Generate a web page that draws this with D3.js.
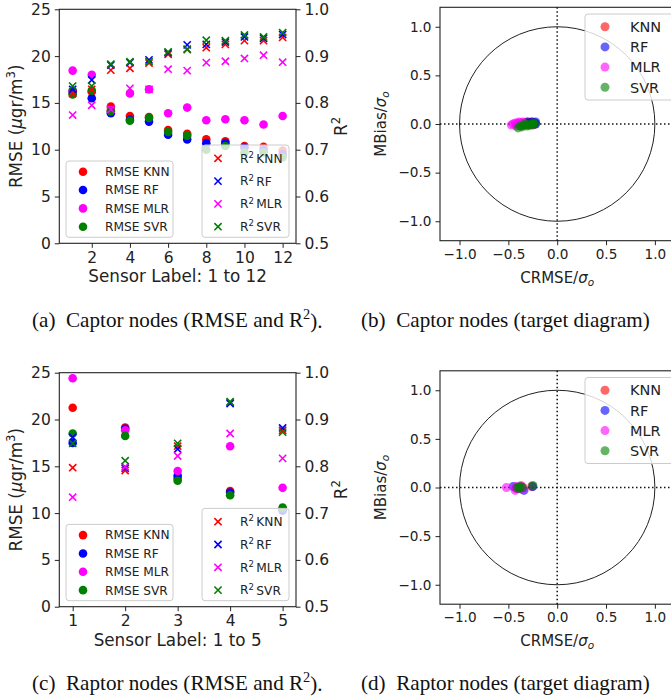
<!DOCTYPE html>
<html><head><meta charset="utf-8">
<script src="https://cdn.jsdelivr.net/npm/d3@7"></script>
<style>
body{margin:0;background:#fff;}
text{font-family:"DejaVu Sans",sans-serif;fill:#222;}
.cap{font-family:"Liberation Serif","DejaVu Serif",serif;fill:#111;}
</style></head>
<body><svg id="c" width="671" height="698"></svg>
<script>
// ---------------- DATA ----------------
const models = ["KNN","RF","MLR","SVR"];
const colors = ["#ff0000","#0000ff","#ff00ff","#008000"];

// Panel (a) Captor nodes, sensors 1..12
const sensorsA = [1,2,3,4,5,6,7,8,9,10,11,12];
const rmseA_KNN = [16.0,16.2,14.6,13.6,13.5,12.1,11.7,11.1,10.9,10.4,10.3,9.9];
const rmseA_RF  = [16.3,15.5,13.9,13.2,13.0,11.6,11.1,10.7,10.7,10.2,10.0,9.5];
const rmseA_MLR = [18.45,18.0,14.2,16.0,16.45,13.9,14.5,13.15,13.25,13.15,12.7,13.6];
const rmseA_SVR = [15.9,16.3,14.1,13.1,13.4,11.9,11.5,10.0,10.4,9.7,9.7,9.2];
const r2A_KNN = [0.820,0.829,0.870,0.874,0.885,0.904,0.914,0.918,0.925,0.933,0.933,0.940];
const r2A_RF  = [0.829,0.849,0.881,0.886,0.892,0.907,0.924,0.925,0.930,0.941,0.938,0.946];
const r2A_MLR = [0.774,0.795,0.786,0.831,0.829,0.872,0.869,0.886,0.889,0.895,0.902,0.887];
const r2A_SVR = [0.836,0.836,0.883,0.888,0.888,0.909,0.915,0.934,0.933,0.945,0.941,0.950];

// Panel (c) Raptor nodes, sensors 1..5
const sensorsC = [1,2,3,4,5];
const rmseC_KNN = [21.25,19.15,13.7,12.35,10.4];
const rmseC_RF  = [17.5,19.0,14.0,12.2,10.25];
const rmseC_MLR = [24.4,18.85,14.5,17.15,12.7];
const rmseC_SVR = [18.5,18.25,13.45,11.9,10.6];
const r2C_KNN = [0.797,0.791,0.843,0.936,0.877];
const r2C_RF  = [0.862,0.796,0.837,0.934,0.882];
const r2C_MLR = [0.734,0.799,0.822,0.870,0.817];
const r2C_SVR = [0.849,0.812,0.849,0.938,0.873];

// Panel (b) target diagram, captor nodes (CRMSE/sigma_o, MBias/sigma_o)
const tgtB_KNN_x = [-0.36,-0.34,-0.31,-0.29,-0.29,-0.27,-0.26,-0.25,-0.25,-0.24,-0.24,-0.23];
const tgtB_KNN_y = [0.01,0.00,0.02,-0.01,0.01,0.00,0.02,0.01,-0.01,0.00,0.01,0.00];
const tgtB_RF_x  = [-0.37,-0.35,-0.32,-0.30,-0.29,-0.27,-0.26,-0.25,-0.24,-0.23,-0.22,-0.22];
const tgtB_RF_y  = [0.00,-0.01,0.01,0.02,0.00,0.01,0.02,0.00,0.01,0.01,0.00,0.02];
const tgtB_MLR_x = [-0.47,-0.45,-0.43,-0.42,-0.41,-0.40,-0.39,-0.38,-0.37,-0.36,-0.35,-0.34];
const tgtB_MLR_y = [-0.01,0.00,0.01,-0.02,0.00,0.01,0.02,0.00,-0.01,0.01,0.02,0.00];
const tgtB_SVR_x = [-0.40,-0.38,-0.36,-0.34,-0.33,-0.31,-0.30,-0.28,-0.27,-0.25,-0.24,-0.23];
const tgtB_SVR_y = [-0.04,-0.02,-0.03,-0.01,0.00,-0.02,-0.01,0.00,-0.01,0.00,0.01,0.00];

// Panel (d) target diagram, raptor nodes
const tgtD_KNN_x = [-0.40,-0.37,-0.42,-0.35,-0.26];
const tgtD_KNN_y = [0.00,0.01,-0.01,0.00,0.01];
const tgtD_RF_x  = [-0.45,-0.38,-0.40,-0.34,-0.25];
const tgtD_RF_y  = [0.01,0.00,-0.01,-0.03,0.01];
const tgtD_MLR_x = [-0.52,-0.43,-0.42,-0.37,-0.36];
const tgtD_MLR_y = [0.00,-0.03,0.01,0.02,-0.02];
const tgtD_SVR_x = [-0.41,-0.38,-0.39,-0.36,-0.25];
const tgtD_SVR_y = [0.00,0.01,-0.01,0.00,0.02];

const ticksA_x = [2,4,6,8,10,12];
const ticksC_x = [1,2,3,4,5];
const ticksRMSE = [0,5,10,15,20,25];
const ticksR2 = [0.5,0.6,0.7,0.8,0.9,1.0];
const ticksTgt = [-1.0,-0.5,0.0,0.5,1.0];
const captions = ["(a)\u2002Captor nodes (RMSE and R","(b)\u2002Captor nodes (target diagram)",
                  "(c)\u2002Raptor nodes (RMSE and R","(d)\u2002Raptor nodes (target diagram)"];

// ---------------- DRAW ----------------
const svg = d3.select("#c");
svg.append("rect").attr("width",671).attr("height",698).attr("fill","#fff");
const fmtMinus = v => (v<0?"\u2212":"") + Math.abs(v).toFixed(1);
const TICKF = 15.5, LEGF = 12.2, LABF = 16.8;

function styleAxis(g, fs){
  g.selectAll("path.domain").remove();
  g.selectAll("line").attr("stroke","#222").attr("stroke-width",1);
  g.selectAll("text").attr("font-size",fs).attr("fill","#222").attr("font-family","DejaVu Sans");
}
function crossPath(s){ return `M${-s},${-s}L${s},${s}M${-s},${s}L${s},${-s}`; }

function legendBox(g, x, y, w, h){
  g.append("rect").attr("x",x).attr("y",y).attr("width",w).attr("height",h)
   .attr("rx",3).attr("fill","#fff").attr("fill-opacity",0.8).attr("stroke","#cccccc").attr("stroke-width",1);
}

function rmsePanel(top, sensors, domainX, ticksX, rmse, r2, xlabel){
  const L=59.3, R=296, B=top+234;
  const x = d3.scaleLinear().domain(domainX).range([L,R]);
  const y = d3.scaleLinear().domain([0,25]).range([B,top]);
  const y2 = d3.scaleLinear().domain([0.5,1.0]).range([B,top]);
  const g = svg.append("g");
  const gx = g.append("g").attr("transform",`translate(0,${B})`).call(d3.axisBottom(x).tickValues(ticksX).tickSize(4.5).tickPadding(4).tickFormat(d3.format("d")));
  styleAxis(gx,TICKF);
  const gy = g.append("g").attr("transform",`translate(${L},0)`).call(d3.axisLeft(y).tickValues(ticksRMSE).tickSize(4.5).tickPadding(4).tickFormat(d3.format("d")));
  styleAxis(gy,TICKF);
  const gy2 = g.append("g").attr("transform",`translate(${R},0)`).call(d3.axisRight(y2).tickValues(ticksR2).tickSize(4.5).tickPadding(4).tickFormat(d3.format(".1f")));
  styleAxis(gy2,TICKF);
  g.append("rect").attr("x",L).attr("y",top).attr("width",R-L).attr("height",B-top)
   .attr("fill","none").attr("stroke","#222").attr("stroke-width",1.1);
  models.forEach((m,i)=>{
    g.append("g").selectAll("circle").data(sensors).join("circle")
     .attr("cx",d=>x(d)).attr("cy",(d,j)=>y(rmse[i][j])).attr("r",4.3).attr("fill",colors[i]);
  });
  const lg = g.append("g");
  legendBox(lg, 66, B-82.3, 107, 76.3);
  models.forEach((m,i)=>{
    const yy = B-71.6 + i*18.35;
    lg.append("circle").attr("cx",83).attr("cy",yy).attr("r",4.3).attr("fill",colors[i]);
    lg.append("text").attr("x",105).attr("y",yy).attr("dy","0.36em").attr("font-size",LEGF).text("RMSE "+m);
  });
  models.forEach((m,i)=>{
    g.append("g").selectAll("path").data(sensors).join("path")
     .attr("transform",(d,j)=>`translate(${x(d)},${y2(r2[i][j])})`)
     .attr("d",crossPath(3.6)).attr("stroke",colors[i]).attr("stroke-width",1.6).attr("fill","none");
  });
  const lg2 = g.append("g");
  legendBox(lg2, 202, B-98.3, 87, 92.3);
  models.forEach((m,i)=>{
    const yy = B-85 + i*22.8;
    lg2.append("path").attr("transform",`translate(218,${yy})`).attr("d",crossPath(3.6))
       .attr("stroke",colors[i]).attr("stroke-width",1.6);
    const t = lg2.append("text").attr("x",240).attr("y",yy).attr("dy","0.36em").attr("font-size",LEGF);
    t.append("tspan").text("R");
    t.append("tspan").attr("font-size",LEGF*0.7).attr("dy","-0.55em").text("2");
    t.append("tspan").attr("dy","0.4em").text("\u2009"+m);
  });
  g.append("text").attr("x",(L+R)/2).attr("y",B+38.8).attr("text-anchor","middle").attr("font-size",LABF).text(xlabel);
  const yl = g.append("text").attr("transform",`translate(22,${(top+B)/2}) rotate(-90)`).attr("text-anchor","middle").attr("font-size",LABF);
  yl.append("tspan").text("RMSE (");
  yl.append("tspan").attr("font-style","italic").text("\u03bc");
  yl.append("tspan").text("gr/m");
  yl.append("tspan").attr("font-size",LABF*0.7).attr("dy","-0.6em").text("3");
  yl.append("tspan").attr("dy","0.42em").text(")");
  const rl = g.append("text").attr("transform",`translate(347,${(top+B)/2}) rotate(-90)`).attr("text-anchor","middle").attr("font-size",LABF);
  rl.append("tspan").text("R");
  rl.append("tspan").attr("font-size",LABF*0.7).attr("dy","-0.6em").text("2");
}

function targetPanel(top, xs, ys){
  const L=440, W=234.4, H=233.4;
  const x = d3.scaleLinear().domain([-1.2,1.2]).range([L,L+W]);
  const y = d3.scaleLinear().domain([-1.2,1.2]).range([top+H,top]);
  const g = svg.append("g");
  const gx = g.append("g").attr("transform",`translate(0,${top+H})`).call(d3.axisBottom(x).tickValues(ticksTgt).tickSize(4.5).tickPadding(4).tickFormat(fmtMinus));
  styleAxis(gx,13.6);
  const gy = g.append("g").attr("transform",`translate(${L},0)`).call(d3.axisLeft(y).tickValues(ticksTgt).tickSize(4.5).tickPadding(4).tickFormat(fmtMinus));
  styleAxis(gy,13.6);
  g.append("rect").attr("x",L).attr("y",top).attr("width",W).attr("height",H)
   .attr("fill","none").attr("stroke","#222").attr("stroke-width",1.1);
  g.append("ellipse").attr("cx",x(0)).attr("cy",y(0)).attr("rx",x(1)-x(0)).attr("ry",y(0)-y(1))
   .attr("fill","none").attr("stroke","#222").attr("stroke-width",1);
  g.append("line").attr("x1",x(-1.2)).attr("x2",x(1.2)).attr("y1",y(0)).attr("y2",y(0))
   .attr("stroke","#111").attr("stroke-width",1.5).attr("stroke-dasharray","1.5,2.5");
  g.append("line").attr("x1",x(0)).attr("x2",x(0)).attr("y1",y(-1.2)).attr("y2",y(1.2))
   .attr("stroke","#111").attr("stroke-width",1.5).attr("stroke-dasharray","1.5,2.5");
  models.forEach((m,i)=>{
    g.append("g").selectAll("circle").data(xs[i]).join("circle")
     .attr("cx",d=>x(d)).attr("cy",(d,j)=>y(ys[i][j])).attr("r",4.5)
     .attr("fill",colors[i]).attr("fill-opacity",0.6);
  });
  const lg = g.append("g");
  legendBox(lg, 585, top+6.7, 100, 86);
  models.forEach((m,i)=>{
    const yy = top+19.4 + i*20.2;
    lg.append("circle").attr("cx",605).attr("cy",yy).attr("r",4.5).attr("fill",colors[i]).attr("fill-opacity",0.6);
    lg.append("text").attr("x",630).attr("y",yy).attr("dy","0.36em").attr("font-size",14.5).text(m);
  });
  const xl = g.append("text").attr("x",x(0)).attr("y",top+H+42).attr("text-anchor","middle").attr("font-size",15);
  xl.append("tspan").text("CRMSE/");
  xl.append("tspan").attr("font-style","italic").text("\u03c3");
  xl.append("tspan").attr("font-style","italic").attr("font-size",10.5).attr("dy","0.3em").text("o");
  const yl = g.append("text").attr("transform",`translate(385.5,${y(0)}) rotate(-90)`).attr("text-anchor","middle").attr("font-size",15);
  yl.append("tspan").text("MBias/");
  yl.append("tspan").attr("font-style","italic").text("\u03c3");
  yl.append("tspan").attr("font-style","italic").attr("font-size",10.5).attr("dy","0.3em").text("o");
}

rmsePanel(9.3, sensorsA, [0.3,12.7], ticksA_x,
  [rmseA_KNN,rmseA_RF,rmseA_MLR,rmseA_SVR],[r2A_KNN,r2A_RF,r2A_MLR,r2A_SVR],"Sensor Label: 1 to 12");
rmsePanel(372.7, sensorsC, [0.745,5.255], ticksC_x,
  [rmseC_KNN,rmseC_RF,rmseC_MLR,rmseC_SVR],[r2C_KNN,r2C_RF,r2C_MLR,r2C_SVR],"Sensor Label: 1 to 5");
targetPanel(7.3, [tgtB_KNN_x,tgtB_RF_x,tgtB_MLR_x,tgtB_SVR_x],[tgtB_KNN_y,tgtB_RF_y,tgtB_MLR_y,tgtB_SVR_y]);
targetPanel(370.8, [tgtD_KNN_x,tgtD_RF_x,tgtD_MLR_x,tgtD_SVR_x],[tgtD_KNN_y,tgtD_RF_y,tgtD_MLR_y,tgtD_SVR_y]);

// captions: size fitted so caption (a) spans ~291 px
const capPos = [[32,327],[361,327],[32,690],[361,690]];
const capNodes = captions.map((c,i)=>{
  const t = svg.append("text").attr("class","cap").attr("x",capPos[i][0]).attr("y",capPos[i][1]).attr("font-size",20);
  t.append("tspan").text(c);
  if(i===0||i===2){
    t.append("tspan").attr("class","sup").attr("font-size",14).attr("dy","-0.55em").text("2");
    t.append("tspan").attr("dy","0.4em").text(").");
  }
  return t;
});
const w0 = capNodes[0].node().getComputedTextLength();
const fs = 20*291/w0;
capNodes.forEach(t=>{ t.attr("font-size",fs); t.selectAll("tspan.sup").attr("font-size",fs*0.68); });
</script></body></html>
